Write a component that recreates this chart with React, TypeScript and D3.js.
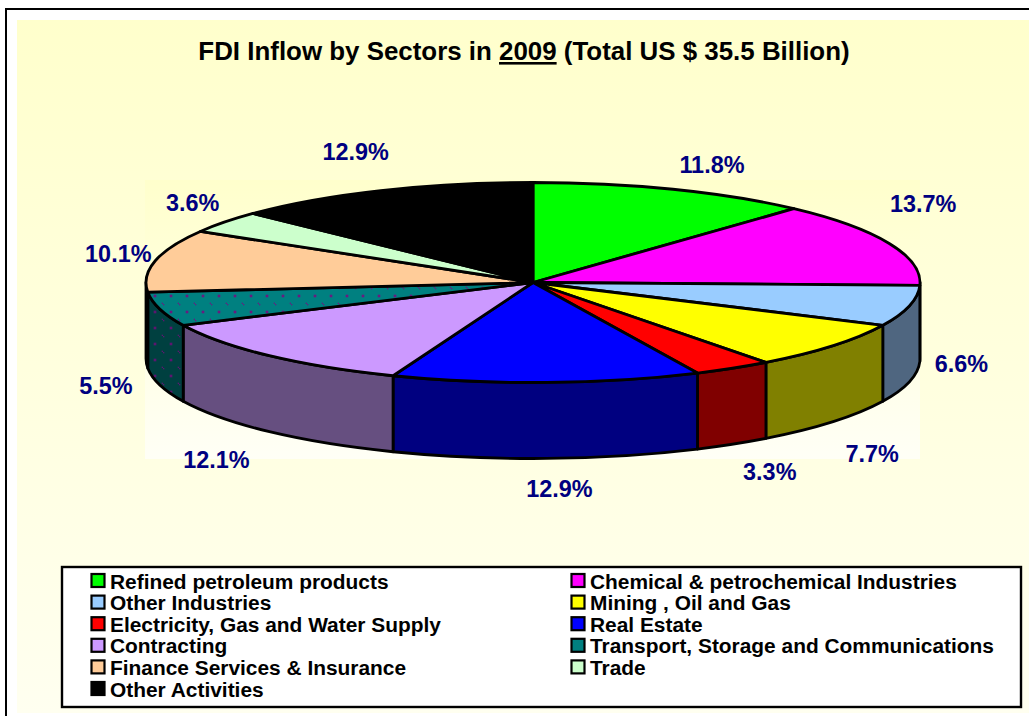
import React from "react";
import * as d3 from "d3";

const categories = [
  "Refined petroleum products",
  "Chemical & petrochemical Industries",
  "Other Industries",
  "Mining , Oil and Gas",
  "Electricity, Gas and Water Supply",
  "Real Estate",
  "Contracting",
  "Transport, Storage and Communications",
  "Finance Services & Insurance",
  "Trade",
  "Other Activities",
];
const shares = [11.8, 13.7, 6.6, 7.7, 3.3, 12.9, 12.1, 5.5, 10.1, 3.6, 12.9];
const topColors = ["#00FF00", "#FF00FF", "#99CCFF", "#FFFF00", "#FF0000", "#0000FF", "#CC99FF", "url(#dotsTop)", "#FFCC99", "#CCFFCC", "#000000"];
const sideColors = ["#008000", "#800080", "#4F6680", "#808000", "#800000", "#000080", "#664F80", "url(#dotsSide)", "#806650", "#668066", "#000000"];
const legendSwatch = ["#00FF00", "#FF00FF", "#99CCFF", "#FFFF00", "#FF0000", "#0000FF", "#CC99FF", "#008080", "#FFCC99", "#CCFFCC", "#000000"];
const labelOffsets: [number, number][] = [
  [39, -24], [34, -39], [52, 58], [39, 108], [37, 104], [13, 107], [-53, 104], [-54, 77], [-37, -7], [-32, -19], [-25, -39],
];

const W = 1029, H = 716;
const cx = 533, cy = 282.5, rx = 387, ry = 100, depth = 76;
const FONT = "'Liberation Sans', Arial, sans-serif";

const pt = (a: number, dy = 0): [number, number] => [cx + rx * Math.sin(a), cy - ry * Math.cos(a) + dy];

const arcs = d3.pie<number>().sort(null).startAngle(0).endAngle(2 * Math.PI)(shares);

function topPath(a0: number, a1: number) {
  const p0 = pt(a0), p1 = pt(a1);
  const large = a1 - a0 > Math.PI ? 1 : 0;
  return `M${cx},${cy}L${p0[0]},${p0[1]}A${rx},${ry} 0 ${large} 1 ${p1[0]},${p1[1]}Z`;
}

function sidePath(a0: number, a1: number) {
  const s = Math.max(a0, Math.PI / 2), e = Math.min(a1, (3 * Math.PI) / 2);
  if (e <= s) return null;
  const p0 = pt(s), p1 = pt(e), q1 = pt(e, depth), q0 = pt(s, depth);
  return `M${p0[0]},${p0[1]}A${rx},${ry} 0 0 1 ${p1[0]},${p1[1]}L${q1[0]},${q1[1]}A${rx},${ry} 0 0 0 ${q0[0]},${q0[1]}Z`;
}

const rowY = d3.scalePoint<number>().domain(d3.range(6)).range([581, 689]);
const colX = d3.scalePoint<number>().domain([0, 1]).range([91, 571]);

export default function App() {
  return (
    <svg width={W} height={H} viewBox={`0 0 ${W} ${H}`} style={{ position: "fixed", left: 0, top: 0, background: "#fff" }} fontFamily={FONT}>
      <defs>
        <linearGradient id="bg" x1="0" y1="0" x2="0" y2="1">
          <stop offset="0" stopColor="#FFFFCC" />
          <stop offset="1" stopColor="#FFFFF0" />
        </linearGradient>
        <linearGradient id="plotBg" x1="0" y1="0" x2="0" y2="1">
          <stop offset="0" stopColor="#FFFFCC" />
          <stop offset="1" stopColor="#FFFFF6" />
        </linearGradient>
        <pattern id="dotsTop" width="16" height="16" patternUnits="userSpaceOnUse" x="3" y="0">
          <rect width="16" height="16" fill="#008080" />
          <rect x="6.7" y="6.7" width="2.6" height="2.6" fill="#6A1A80" />
          <rect x="14.7" y="14.7" width="2.6" height="2.6" fill="#6A1A80" />
          <rect x="-1.3" y="-1.3" width="2.6" height="2.6" fill="#6A1A80" />
        </pattern>
        <pattern id="dotsSide" width="16" height="16" patternUnits="userSpaceOnUse" x="3" y="0">
          <rect width="16" height="16" fill="#004040" />
          <rect x="6.7" y="6.7" width="2.6" height="2.6" fill="#5E1470" />
          <rect x="14.7" y="14.7" width="2.6" height="2.6" fill="#5E1470" />
          <rect x="-1.3" y="-1.3" width="2.6" height="2.6" fill="#5E1470" />
        </pattern>
      </defs>

      <rect x={17} y={20} width={W - 17} height={693} fill="url(#bg)" />
      <path d={`M${W},9H6V${H}`} fill="none" stroke="#000" strokeWidth={2} />
      <rect x={145} y={180} width={775} height={279} fill="url(#plotBg)" />

      <text x={524} y={60} textAnchor="middle" fontSize={25.9} fontWeight="bold" fill="#000">
        FDI Inflow by Sectors in <tspan textDecoration="underline">2009</tspan> (Total US $ 35.5 Billion)
      </text>

      <g stroke="#000" strokeWidth={2.8} strokeLinejoin="round">
        {arcs.map((a, i) => {
          const d = sidePath(a.startAngle, a.endAngle);
          return d ? <path key={i} d={d} fill={sideColors[i]} /> : null;
        })}
        {arcs.map((a, i) => (
          <path key={i} d={topPath(a.startAngle, a.endAngle)} fill={topColors[i]} />
        ))}
      </g>

      <g fontSize={23.4} fontWeight="bold" fill="#000080" textAnchor="middle">
        {arcs.map((a, i) => {
          const p = pt((a.startAngle + a.endAngle) / 2);
          return (
            <text key={i} x={p[0] + labelOffsets[i][0]} y={p[1] + labelOffsets[i][1] + 8}>
              {shares[i].toFixed(1)}%
            </text>
          );
        })}
      </g>

      <rect x={62} y={567} width={959} height={140} fill="#fff" stroke="#000" strokeWidth={2.4} />
      <g fontSize={20.9} fontWeight="bold" fill="#000">
        {categories.map((c, i) => {
          const x = colX(i % 2)!;
          const y = rowY(Math.floor(i / 2))!;
          return (
            <g key={c}>
              <rect x={x + 0.5} y={y - 7} width={13} height={13} fill={legendSwatch[i]} stroke="#000" strokeWidth={2.2} />
              <text x={x + 19} y={y + 7.5}>{c}</text>
            </g>
          );
        })}
      </g>
    </svg>
  );
}
